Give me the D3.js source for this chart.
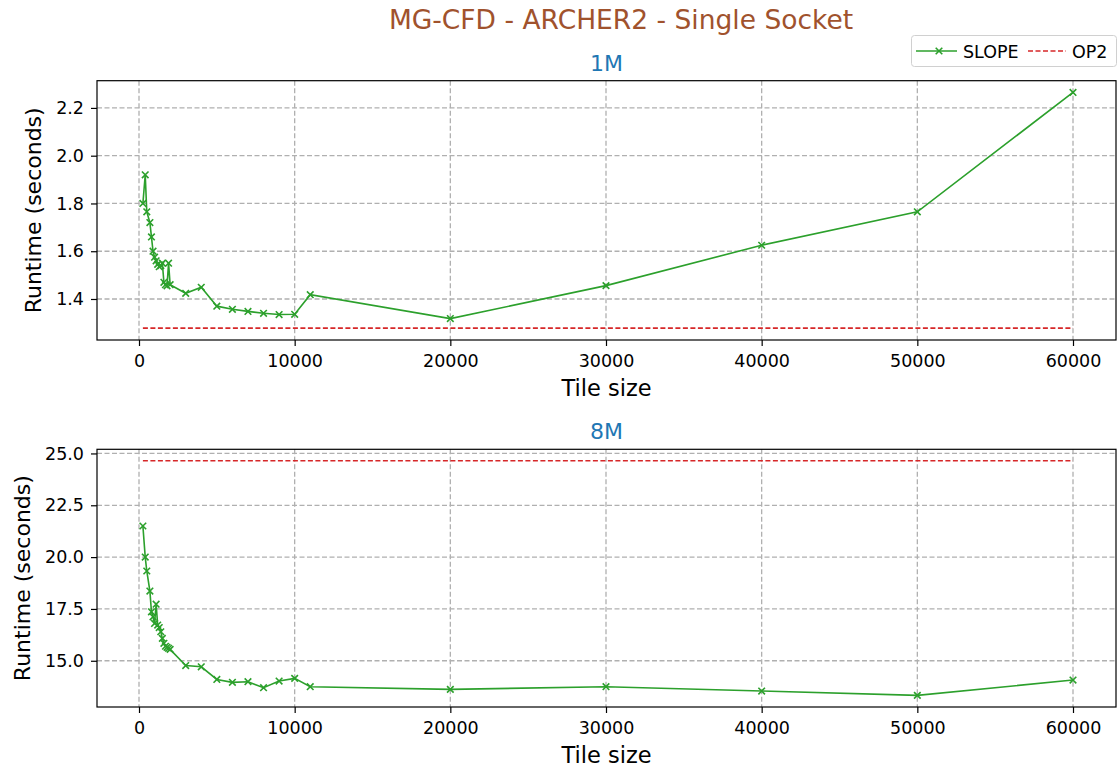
<!DOCTYPE html>
<html><head><meta charset="utf-8">
<script src="https://cdn.jsdelivr.net/npm/d3@7"></script>
<style>body{margin:0;background:#fff}svg{display:block;font-family:"DejaVu Sans",sans-serif}</style>
</head><body><svg id="c" width="1120" height="769"></svg>
<script>
const tileSizes = [250, 400, 500, 700, 800, 900, 1000, 1100, 1200, 1300, 1400, 1500, 1600, 1700, 1800, 1900, 2000, 3000, 4000, 5000, 6000, 7000, 8000, 9000, 10000, 11000, 20000, 30000, 40000, 50000, 60000];
const slope1M = [1.80, 1.92, 1.765, 1.72, 1.66, 1.60, 1.575, 1.56, 1.545, 1.535, 1.54, 1.55, 1.47, 1.46, 1.455, 1.55, 1.46, 1.424, 1.449, 1.37, 1.357, 1.348, 1.34, 1.335, 1.336, 1.418, 1.318, 1.456, 1.625, 1.765, 2.265];
const slope8M = [21.5, 20.0, 19.33, 18.36, 17.36, 17.12, 16.8, 17.73, 16.72, 16.6, 16.4, 16.08, 15.84, 15.7, 15.65, 15.6, 15.55, 14.77, 14.71, 14.10, 13.96, 13.99, 13.70, 14.02, 14.15, 13.75, 13.62, 13.75, 13.54, 13.33, 14.07];
const op2_1M = 1.278;
const op2_8M = 24.65;
const xTicks = [0, 10000, 20000, 30000, 40000, 50000, 60000];
const yTicks1M = [1.4, 1.6, 1.8, 2.0, 2.2];
const yTicks8M = [15.0, 17.5, 20.0, 22.5, 25.0];
const panels = [
  {title: "1M", vals: slope1M, op2: op2_1M, yTicks: yTicks1M, yDom: [1.2283, 2.314], top: 80.7, bottom: 340, ylabX: 41},
  {title: "8M", vals: slope8M, op2: op2_8M, yTicks: yTicks8M, yDom: [12.77, 25.2], top: 449.3, bottom: 707, ylabX: 30}
];
const svg = d3.select("#c");
const L = 97, R = 1116;
const green = "#2ca02c", red = "#d62728";
const k = (1073 - 139) / 60000;
const xDom = [(L - 139) / k, (R - 139) / k];

svg.append("text").attr("x", 621).attr("y", 29).attr("text-anchor", "middle")
  .attr("font-size", 26.5).attr("fill", "#a0522d").text("MG-CFD - ARCHER2 - Single Socket");

panels.forEach(p => {
  const x = d3.scaleLinear().domain(xDom).range([L, R]);
  const y = d3.scaleLinear().domain(p.yDom).range([p.bottom, p.top]);
  const g = svg.append("g");
  g.selectAll(".gx").data(xTicks).join("line")
    .attr("x1", d => x(d)).attr("x2", d => x(d)).attr("y1", p.top).attr("y2", p.bottom)
    .attr("stroke", "#b0b0b0").attr("stroke-width", 1.3).attr("stroke-dasharray", "5,2.5");
  g.selectAll(".gy").data(p.yTicks).join("line")
    .attr("y1", d => y(d)).attr("y2", d => y(d)).attr("x1", L).attr("x2", R)
    .attr("stroke", "#b0b0b0").attr("stroke-width", 1.3).attr("stroke-dasharray", "5,2.5");
  g.append("line").attr("x1", x(tileSizes[0])).attr("x2", x(tileSizes[tileSizes.length-1]))
    .attr("y1", y(p.op2)).attr("y2", y(p.op2))
    .attr("stroke", red).attr("stroke-width", 1.6).attr("stroke-dasharray", "5,2.5");
  const pts = tileSizes.map((t, i) => [t, p.vals[i]]);
  g.append("path").datum(pts)
    .attr("d", d3.line().x(d => x(d[0])).y(d => y(d[1])))
    .attr("fill", "none").attr("stroke", green).attr("stroke-width", 1.6);
  const s = 3.3;
  g.selectAll(".m").data(pts).join("path")
    .attr("d", d => { const cx = x(d[0]), cy = y(d[1]);
      return `M${cx-s},${cy-s}L${cx+s},${cy+s}M${cx-s},${cy+s}L${cx+s},${cy-s}`; })
    .attr("stroke", green).attr("stroke-width", 1.6);
  g.append("rect").attr("x", L).attr("y", p.top).attr("width", R - L).attr("height", p.bottom - p.top)
    .attr("fill", "none").attr("stroke", "#000").attr("stroke-width", 1.2);
  const ax = g.append("g").attr("transform", `translate(0,${p.bottom})`)
    .call(d3.axisBottom(x).tickValues(xTicks).tickFormat(d3.format("d")).tickSize(6).tickPadding(9));
  const ay = g.append("g").attr("transform", `translate(${L},0)`)
    .call(d3.axisLeft(y).tickValues(p.yTicks).tickFormat(d3.format(".1f")).tickSize(6).tickPadding(7));
  [ax, ay].forEach(a => {
    a.select(".domain").remove();
    a.selectAll("text").attr("font-size", 17.5).attr("fill", "#000").attr("font-family", "DejaVu Sans");
    a.selectAll("line").attr("stroke", "#000").attr("stroke-width", 1.2);
  });
  g.append("text").attr("x", (L + R) / 2).attr("y", p.bottom + 56).attr("text-anchor", "middle")
    .attr("font-size", 22.5).text("Tile size");
  g.append("text").attr("transform", `translate(${p.ylabX},${(p.top + p.bottom) / 2}) rotate(-90)`)
    .attr("text-anchor", "middle").attr("font-size", 22).text("Runtime (seconds)");
  g.append("text").attr("x", (L + R) / 2).attr("y", p.top - 10).attr("text-anchor", "middle")
    .attr("font-size", 22).attr("fill", "#1f77b4").text(p.title);
});

const lg = svg.append("g");
lg.append("rect").attr("x", 911.5).attr("y", 35.5).attr("width", 205).attr("height", 31).attr("rx", 3)
  .attr("fill", "#fff").attr("fill-opacity", 0.8).attr("stroke", "#d0d0d0");
lg.append("line").attr("x1", 916).attr("x2", 957).attr("y1", 51).attr("y2", 51).attr("stroke", green).attr("stroke-width", 1.6);
lg.append("path").attr("d", "M935.7,47.7L942.3,54.3M935.7,54.3L942.3,47.7").attr("stroke", green).attr("stroke-width", 1.6);
lg.append("text").attr("x", 963).attr("y", 57.5).attr("font-size", 17.5).text("SLOPE");
lg.append("line").attr("x1", 1028).attr("x2", 1066).attr("y1", 51).attr("y2", 51).attr("stroke", red).attr("stroke-width", 1.6).attr("stroke-dasharray", "5,2.5");
lg.append("text").attr("x", 1072).attr("y", 57.5).attr("font-size", 17.5).text("OP2");
</script></body></html>
